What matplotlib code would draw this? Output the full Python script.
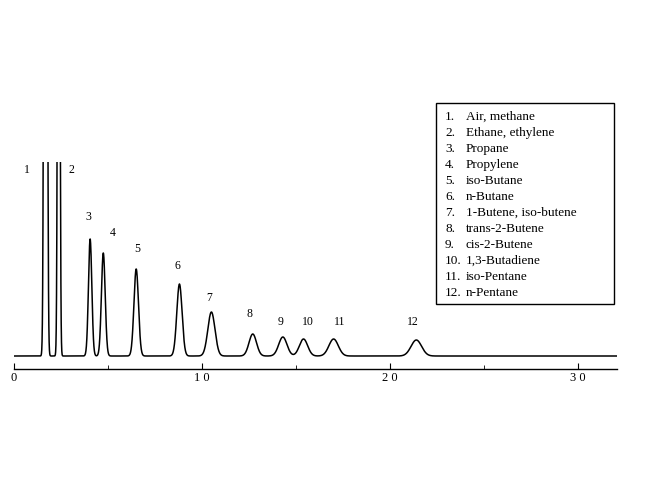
import numpy as np
import matplotlib
matplotlib.use("Agg")
import matplotlib.pyplot as plt
from matplotlib.patches import Rectangle

peak_labels = ["1", "2", "3", "4", "5", "6", "7", "8", "9", "10", "11", "12"]
retention = [1.68, 2.38, 4.05, 4.75, 6.5, 8.8, 10.5, 12.7, 14.3, 15.4, 17.0, 21.4]
heights = [2000, 1000, 117, 103, 87, 72, 44, 22, 19, 17, 17, 16]
sigmas = [0.06, 0.05, 0.09, 0.1, 0.12, 0.14, 0.19, 0.2, 0.22, 0.22, 0.25, 0.28]
label_y = [186, 186, 139, 123, 107, 90, 58, 42, 34, 34, 34, 34]
label_dx = [-1.0, 0.7, -0.1, 0.5, 0.05, -0.1, -0.1, -0.15, -0.1, 0.25, 0.3, -0.2]
legend_items = ["Air, methane", "Ethane, ethylene", "Propane", "Propylene", "iso-Butane",
                "n-Butane", "1-Butene, iso-butene", "trans-2-Butene", "cis-2-Butene",
                "1,3-Butadiene", "iso-Pentane", "n-Pentane"]
tick_vals = [0, 10, 20, 30]
tick_text = ["0", "1 0", "2 0", "3 0"]

W, H = 650, 484
fig = plt.figure(figsize=(6.5, 4.84), dpi=100)
x0, x1 = 14, 617
yb, yt = 369, 162
ax = fig.add_axes([x0 / W, 1 - yb / H, (x1 - x0) / W, (yb - yt) / H])
xmax = (x1 - x0) / 18.8
t = np.linspace(0, xmax, 4000)
sig = np.zeros_like(t)
for r, h, s in zip(retention, heights, sigmas):
    sig += h * np.exp(-0.5 * ((t - r) / s) ** 2)
ax.plot(t, sig, color="black", lw=1.1)
ax.set_xlim(0, xmax)
ax.set_ylim(-13, yb - yt - 13)
for sp in ["top", "right", "left"]:
    ax.spines[sp].set_visible(False)
ax.spines["bottom"].set_linewidth(1.0)
ax.set_yticks([])
ax.set_xticks(tick_vals)
ax.set_xticklabels(tick_text, fontfamily="Liberation Serif", fontsize=9)
ax.set_xticks([5, 15, 25], minor=True)
ax.tick_params(axis="x", direction="in", length=4, pad=2)
ax.tick_params(axis="x", which="minor", direction="in", length=3)
for lab, r, dx, ly in zip(peak_labels, retention, label_dx, label_y):
    ax.text(r + dx, ly, lab, ha="center", va="center", fontfamily="Liberation Serif", fontsize=8.5)

fig.patches.append(Rectangle((436 / W, 1 - 304 / H), 178 / W, 201 / H, transform=fig.transFigure,
                             fill=False, edgecolor="black", lw=1.0))
for i, item in enumerate(legend_items):
    y = 1 - (117 + i * 16) / H
    fig.text(445 / W, y, f"{i + 1}.", va="center", fontfamily="Liberation Serif", fontsize=9.5)
    fig.text(466 / W, y, item, va="center", fontfamily="Liberation Serif", fontsize=9.5)

fig.savefig("out.png", dpi=100)
